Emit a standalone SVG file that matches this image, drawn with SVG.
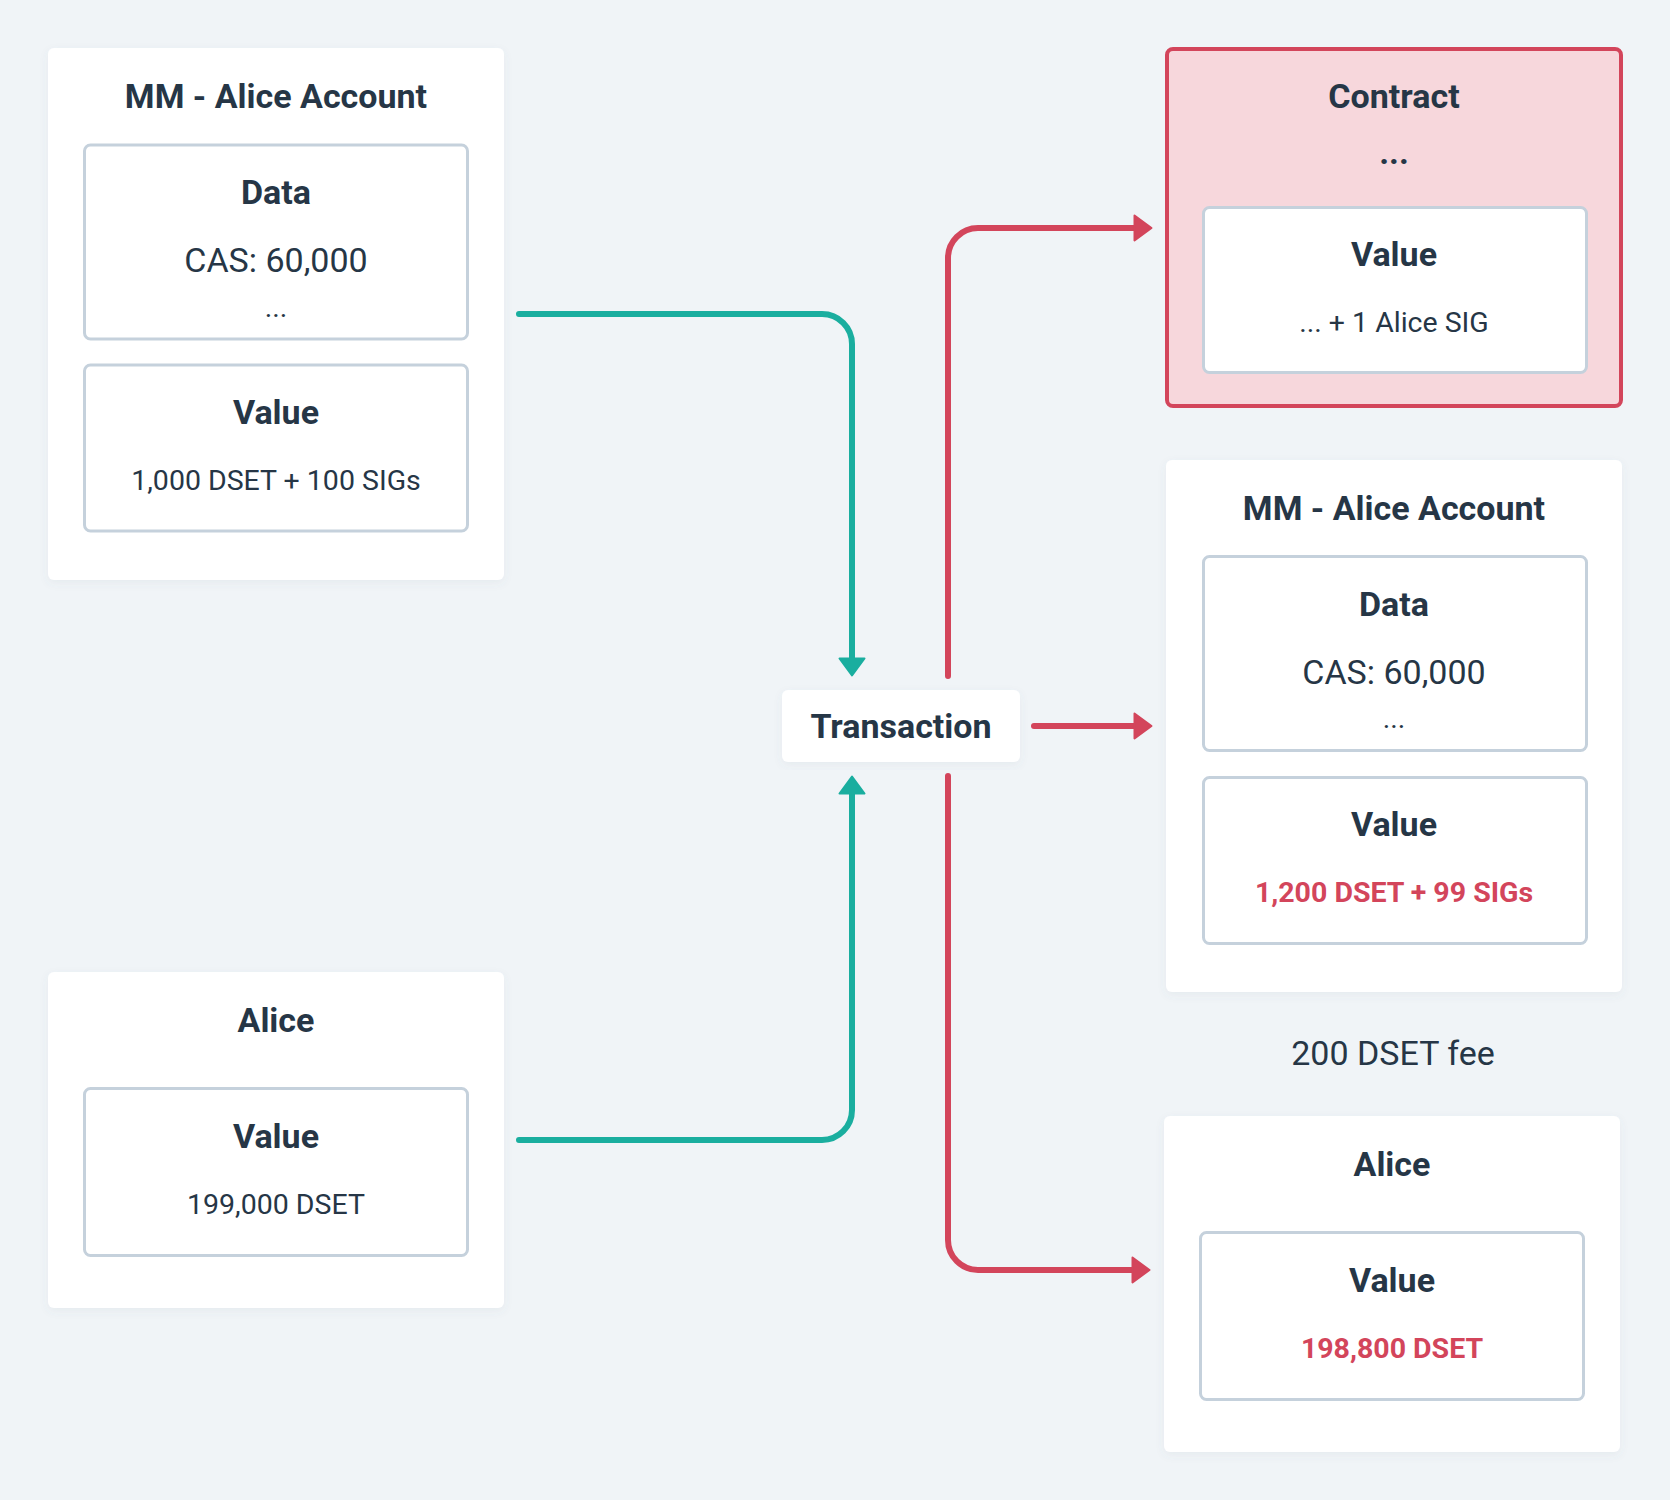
<svg xmlns="http://www.w3.org/2000/svg" width="1670" height="1500" viewBox="0 0 1670 1500">
<defs>
<style>
.card{fill:#ffffff;filter:url(#sh);}
.box{fill:#ffffff;stroke:#c5d1dc;stroke-width:3;}
.h{font-family:Roboto,"Liberation Sans",sans-serif;font-weight:700;font-size:34px;fill:#263646;text-anchor:middle;}
.big{font-family:Roboto,"Liberation Sans",sans-serif;font-weight:400;font-size:34px;fill:#263646;text-anchor:middle;}
.v{font-family:Roboto,"Liberation Sans",sans-serif;font-weight:400;font-size:28.5px;fill:#263646;text-anchor:middle;}
.vr{font-family:Roboto,"Liberation Sans",sans-serif;font-weight:700;font-size:28.5px;fill:#d3455b;text-anchor:middle;}
.teal{fill:none;stroke:#1aae9f;stroke-width:6;stroke-linecap:round;}
.red{fill:none;stroke:#d3455b;stroke-width:6;stroke-linecap:round;}
</style>
<filter id="sh" x="-10%" y="-10%" width="120%" height="120%">
<feDropShadow dx="0" dy="3" stdDeviation="4" flood-color="#5a7184" flood-opacity="0.07"/>
</filter>
<marker id="aT" viewBox="0 0 20 28" markerWidth="20" markerHeight="28" refX="7" refY="14" orient="auto" markerUnits="userSpaceOnUse">
<polygon points="1.5,1.5 18.5,14 1.5,26.5" fill="#1aae9f" stroke="#1aae9f" stroke-width="2" stroke-linejoin="round"/>
</marker>
<marker id="aR" viewBox="0 0 20 28" markerWidth="20" markerHeight="28" refX="7" refY="14" orient="auto" markerUnits="userSpaceOnUse">
<polygon points="1.5,1.5 18.5,14 1.5,26.5" fill="#d3455b" stroke="#d3455b" stroke-width="2" stroke-linejoin="round"/>
</marker>
</defs>
<rect width="1670" height="1500" fill="#f0f4f7"/>

<g id="connectors">
<path class="teal" d="M519 314 H822 A30 30 0 0 1 852 344 V664" marker-end="url(#aT)"/>
<path class="teal" d="M519 1140 H822 A30 30 0 0 0 852 1110 V788" marker-end="url(#aT)"/>
<path class="red" d="M948 676 V258 A30 30 0 0 1 978 228 H1140" marker-end="url(#aR)"/>
<path class="red" d="M1034 726 H1140" marker-end="url(#aR)"/>
<path class="red" d="M948 776 V1240 A30 30 0 0 0 978 1270 H1138" marker-end="url(#aR)"/>
</g>

<g id="mm-alice-before">
<rect class="card" x="48" y="48" width="456" height="532" rx="6"/>
<text class="h" x="276" y="108">MM - Alice Account</text>
<rect class="box" x="84.5" y="145" width="383" height="194" rx="6"/>
<text class="h" x="276" y="204">Data</text>
<text class="big" x="276" y="272">CAS: 60,000</text>
<text class="v" x="276" y="317">...</text>
<rect class="box" x="84.5" y="365" width="383" height="166" rx="6"/>
<text class="h" x="276" y="424">Value</text>
<text class="v" x="276" y="490">1,000 DSET + 100 SIGs</text>
</g>

<g id="alice-before">
<rect class="card" x="48" y="972" width="456" height="336" rx="6"/>
<text class="h" x="276" y="1032">Alice</text>
<rect class="box" x="84.5" y="1088.5" width="383" height="167" rx="6"/>
<text class="h" x="276" y="1148">Value</text>
<text class="v" x="276" y="1214">199,000 DSET</text>
</g>

<g id="transaction">
<rect class="card" x="782" y="690" width="238" height="72" rx="6"/>
<text class="h" x="901" y="738">Transaction</text>
</g>

<g id="contract">
<rect x="1167" y="49" width="454" height="357" rx="6" fill="#f7d7dc" stroke="#d3455b" stroke-width="4"/>
<text class="h" x="1394" y="108">Contract</text>
<text class="h" x="1394" y="164">...</text>
<rect class="box" x="1203.5" y="207.5" width="383" height="165" rx="6"/>
<text class="h" x="1394" y="266">Value</text>
<text class="v" x="1394" y="332">... + 1 Alice SIG</text>
</g>

<g id="mm-alice-after">
<rect class="card" x="1166" y="460" width="456" height="532" rx="6"/>
<text class="h" x="1394" y="520">MM - Alice Account</text>
<rect class="box" x="1203.5" y="556.5" width="383" height="194" rx="6"/>
<text class="h" x="1394" y="616">Data</text>
<text class="big" x="1394" y="684">CAS: 60,000</text>
<text class="v" x="1394" y="728">...</text>
<rect class="box" x="1203.5" y="777.5" width="383" height="166" rx="6"/>
<text class="h" x="1394" y="836">Value</text>
<text class="vr" x="1394" y="902">1,200 DSET + 99 SIGs</text>
</g>

<g id="fee">
<text class="big" x="1393" y="1065">200 DSET fee</text>
</g>

<g id="alice-after">
<rect class="card" x="1164" y="1116" width="456" height="336" rx="6"/>
<text class="h" x="1392" y="1176">Alice</text>
<rect class="box" x="1200.5" y="1232.5" width="383" height="167" rx="6"/>
<text class="h" x="1392" y="1292">Value</text>
<text class="vr" x="1392" y="1358">198,800 DSET</text>
</g>
</svg>
